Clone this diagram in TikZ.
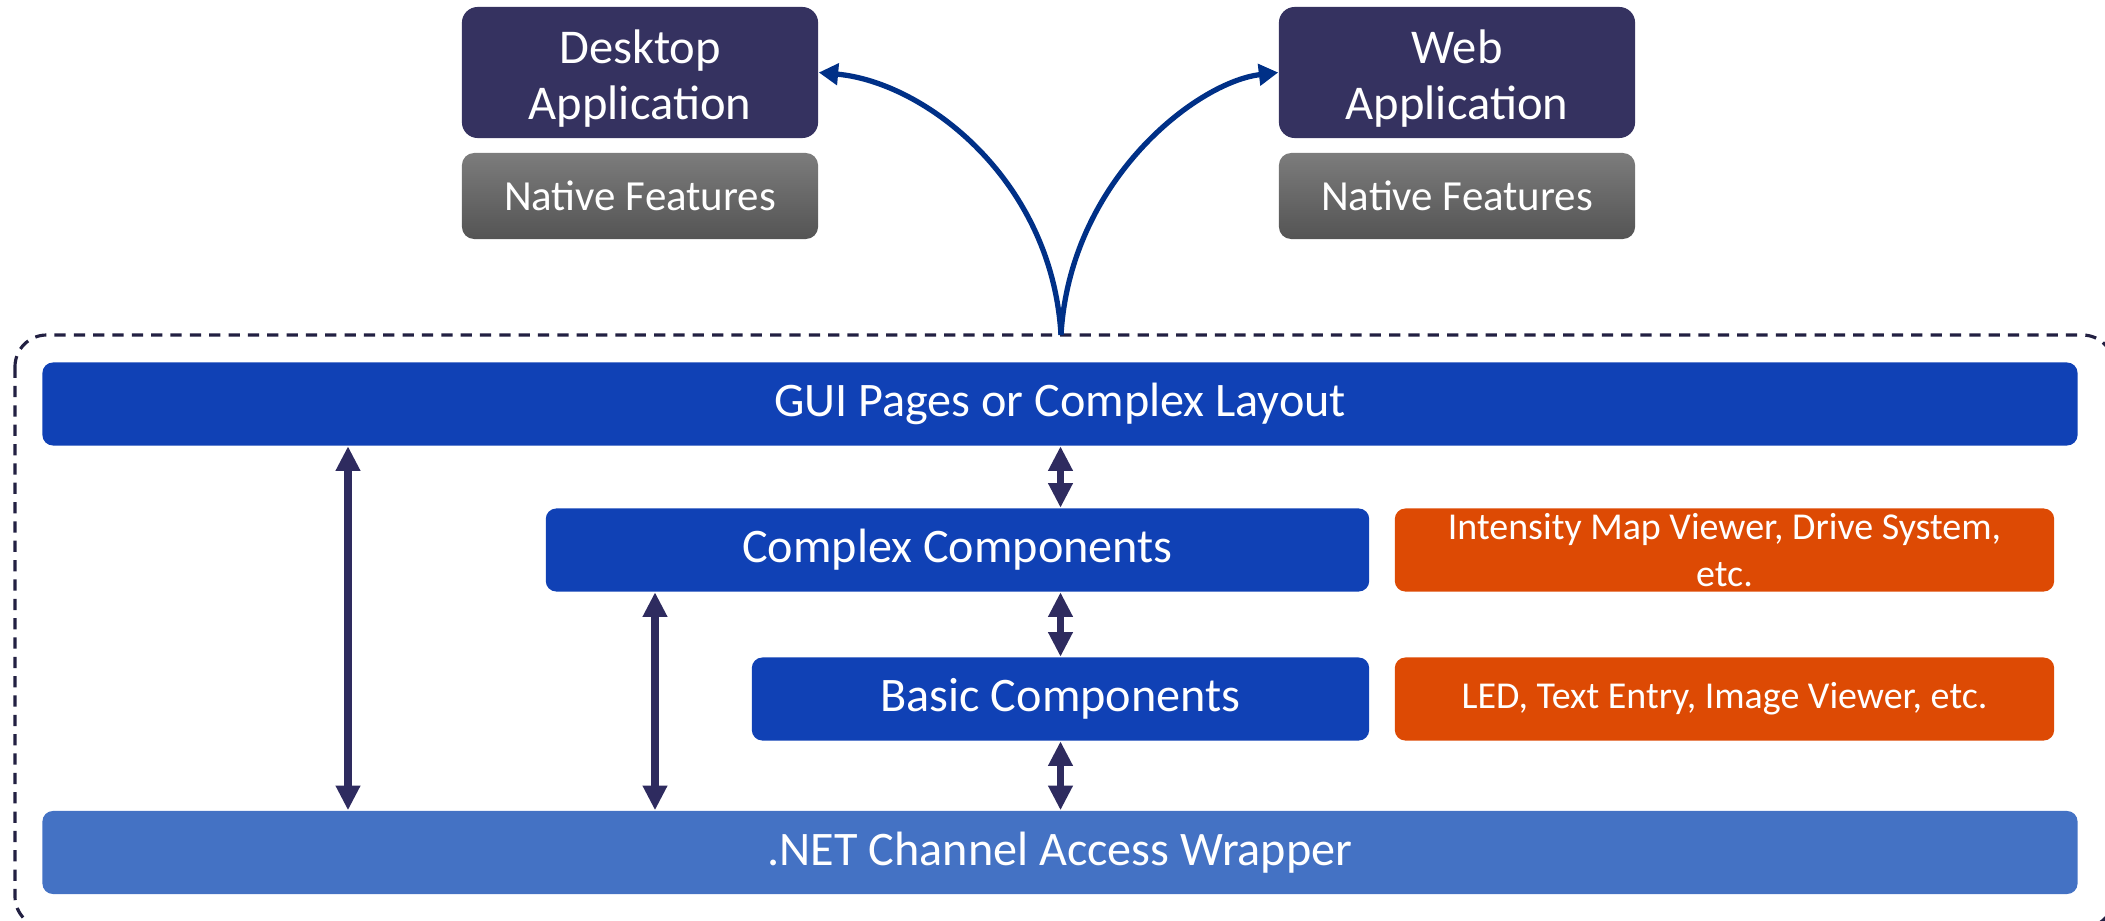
\documentclass[tikz,border=0pt]{standalone}
\usepackage{fontspec}
\setmainfont{Carlito}
\usetikzlibrary{arrows.meta}

\definecolor{ccnavy}{RGB}{53,50,96}
\definecolor{ccblue}{RGB}{16,65,181}
\definecolor{cclight}{RGB}{68,114,196}
\definecolor{ccorange}{RGB}{221,74,4}
\definecolor{ccarrow}{RGB}{46,43,95}
\definecolor{cccurve}{RGB}{0,48,135}
\definecolor{ccframe}{RGB}{34,32,66}
\definecolor{ccgraytop}{RGB}{124,124,124}
\definecolor{ccgraybot}{RGB}{84,84,84}

\tikzset{
  appbox/.style={fill=ccnavy, text=white, rounded corners=4.5pt, inner sep=0pt,
    minimum width=3.56cm, minimum height=1.31cm, align=center,
    font=\fontsize{13.8}{16}\selectfont},
  featbox/.style={top color=ccgraytop, bottom color=ccgraybot, text=white,
    rounded corners=3.5pt, inner sep=0pt, minimum width=3.56cm, minimum height=0.86cm,
    font=\fontsize{12.2}{14}\selectfont},
  layerbox/.style={fill=ccblue, text=white, rounded corners=3pt, inner sep=0pt,
    minimum height=0.83cm, font=\fontsize{13.7}{15}\selectfont},
  notebox/.style={fill=ccorange, text=white, rounded corners=3pt, inner sep=0pt,
    minimum width=6.59cm, minimum height=0.83cm, align=center,
    font=\fontsize{10.8}{13.5}\selectfont},
  dblarrow/.style={{Triangle[width=6.6pt,length=7pt]}-{Triangle[width=6.6pt,length=7pt]},
    line width=2pt, ccarrow},
  curvearrow/.style={-{Triangle[width=6pt,length=5.5pt]}, line width=1.5pt, cccurve}
}

\begin{document}
\begin{tikzpicture}[x=0.01cm, y=-0.01cm]

  \useasboundingbox (0,0) rectangle (2105,921);
  \clip (0,0) rectangle (2105,921);

  % Targets
  \draw (640,72.5) node[appbox] (desktop) {\raisebox{-2.3pt}[\height][\depth]{\begin{tabular}{@{}c@{}}Desktop\\Application\end{tabular}}};
  \draw (640,196) node[featbox] (featdesk) {Native Features};
  \draw (1457,72.5) node[appbox] (web) {\raisebox{-2.3pt}[\height][\depth]{\begin{tabular}{@{}c@{}}Web\\Application\end{tabular}}};
  \draw (1457,196) node[featbox] (featweb) {Native Features};

  % Frame
  \draw[ccframe, line width=0.9pt, dash pattern=on 3.2pt off 2.3pt, rounded corners=9pt]
    (15,335) rectangle (2114,928);
  \coordinate (root) at (1061,335);

  % Layers
  \draw (1060,404) node[layerbox, minimum width=20.34cm] (gui) {GUI Pages or Complex Layout};
  \draw (957.5,550) node[layerbox, minimum width=8.23cm] (complex) {Complex Components};
  \draw (1060.5,699) node[layerbox, minimum width=6.17cm] (basic) {Basic Components};
  \draw (1060,852.5) node[layerbox, fill=cclight, minimum width=20.34cm] (net) {.NET Channel Access Wrapper};

  % Examples
  \draw (1724.5,550) node[notebox] (excomplex) {Intensity Map Viewer, Drive System,\\etc.};
  \draw (1724.5,699) node[notebox] (exbasic) {LED, Text Entry, Image Viewer, etc.};

  % Links
  \coordinate (lft) at (348,0);
  \coordinate (mid) at (655,0);
  \draw[dblarrow] (gui.south -| lft) -- (net.north -| lft);
  \draw[dblarrow] (complex.south -| mid) -- (net.north -| mid);
  \draw[dblarrow] (gui.south -| basic) -- (complex.north -| basic);
  \draw[dblarrow] (complex.south -| basic) -- (basic.north);
  \draw[dblarrow] (basic.south) -- (net.north -| basic);

  % Deploy
  \draw[curvearrow] (root) .. controls (1052,180) and (925,82) .. (desktop.east);
  \draw[curvearrow] (root) .. controls (1070,180) and (1197,82) .. (web.west);

\end{tikzpicture}
\end{document}
